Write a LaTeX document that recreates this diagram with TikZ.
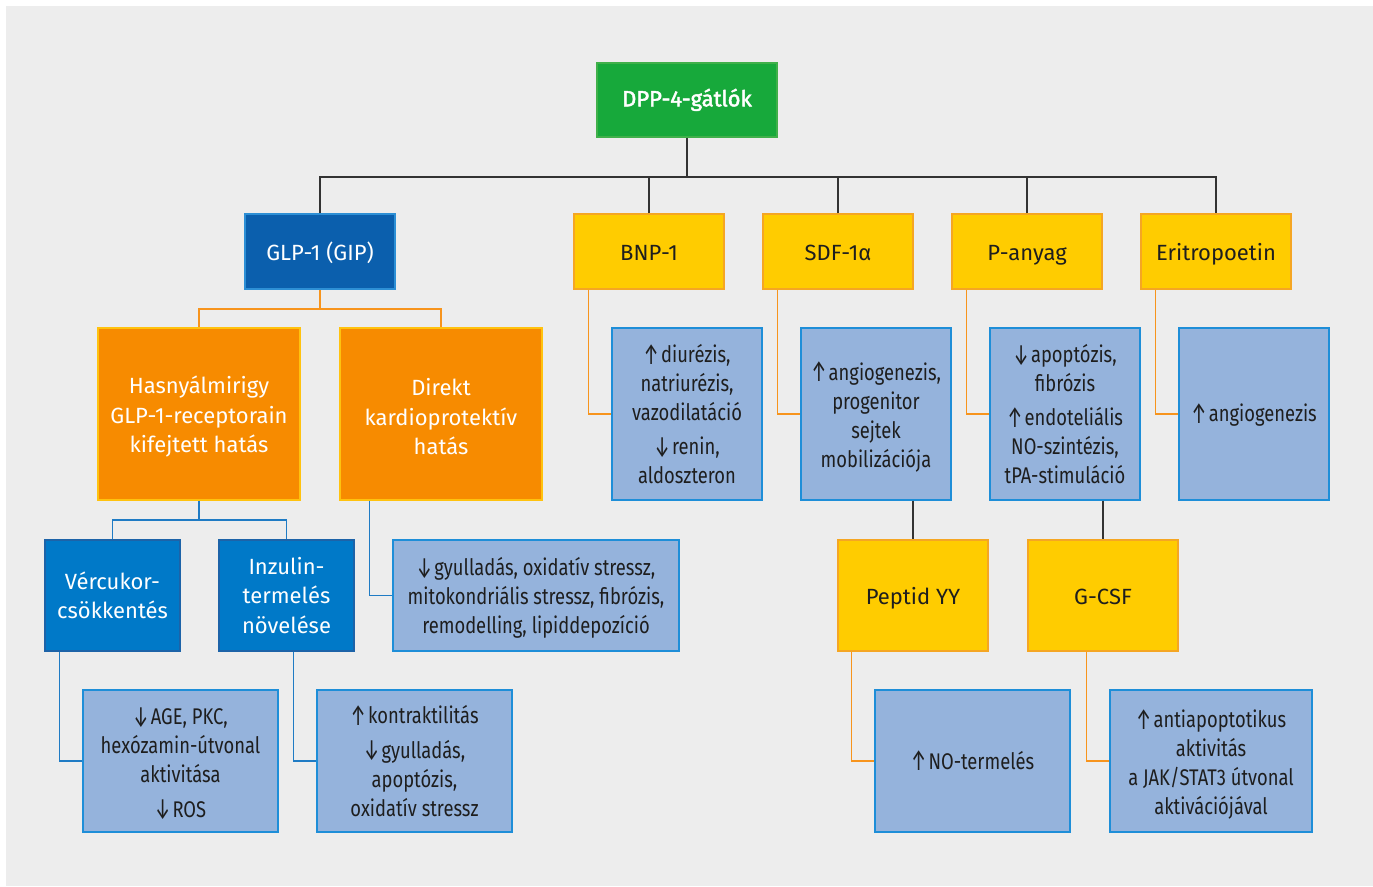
\documentclass[tikz,border=0pt]{standalone}
\usepackage{fontspec}
\usepackage{graphicx}
\setmainfont{Fira Sans}
\newfontfamily\condf[FakeStretch=0.81]{Fira Sans}
\newfontfamily\medf[FakeBold=2]{Fira Sans}
\usetikzlibrary{calc}
\definecolor{bg}{HTML}{EDEDED}
\definecolor{gfill}{HTML}{17A93B}
\definecolor{gdraw}{HTML}{40B04A}
\definecolor{nfill}{HTML}{0B5FAD}
\definecolor{ndraw}{HTML}{2D8FD5}
\definecolor{yfill}{HTML}{FFCC00}
\definecolor{ydraw}{HTML}{F5A623}
\definecolor{ofill}{HTML}{F78B00}
\definecolor{odraw}{HTML}{FFC20E}
\definecolor{mfill}{HTML}{0079C8}
\definecolor{mdraw}{HTML}{1D63A8}
\definecolor{lfill}{HTML}{95B3DC}
\definecolor{ldraw}{HTML}{1E8ED8}
\definecolor{txt}{HTML}{1E1E1E}
\definecolor{oline}{HTML}{F7941D}
\definecolor{bline}{HTML}{1F7BC4}
\definecolor{kline}{HTML}{333333}
\newcommand\up{\raisebox{-0.15ex}{\scalebox{0.95}[1.3]{↑}}\kern1.5pt}
\newcommand\dn{\raisebox{-0.15ex}{\scalebox{0.95}[1.3]{↓}}\kern1.5pt}
\newcommand\myelbow[3]{\path ([xshift=-17.25pt]#2.west) coordinate (tmp);
  \draw[#3] (tmp |- #1.south) |- (#2.west);}
\begin{document}
\begin{tikzpicture}[x=0.75pt,y=-0.75pt,
  box/.style={rectangle, inner sep=0pt, line width=1.1pt, align=center},
  hfont/.style={font=\fontsize{16.5}{22}\selectfont},
  lfont/.style={font=\condf\fontsize{17}{21.75}\selectfont},
  one/.style={text height=16.5pt, text depth=3.5pt},
  greenbox/.style={box, fill=gfill, draw=gdraw, text=white, font=\medf\fontsize{16.5}{22}\selectfont, text height=13pt, text depth=3.5pt},
  navybox/.style={box, one, fill=nfill, draw=ndraw, text=white, hfont},
  yellowbox/.style={box, one, fill=yfill, draw=ydraw, text=txt, hfont},
  orangebox/.style={box, fill=ofill, draw=odraw, text=white, font=\fontsize{16.5}{22.25}\selectfont},
  midbox/.style={box, fill=mfill, draw=mdraw, text=white, font=\fontsize{16.5}{22}\selectfont},
  lightbox/.style={box, fill=lfill, draw=ldraw, text=txt, lfont},
  blk/.style={draw=kline, line width=1pt},
  org/.style={draw=oline, line width=1pt},
  blu/.style={draw=bline, line width=1pt},
  sz1/.style={minimum width=112.5pt, minimum height=56.25pt},
  sz2/.style={minimum width=151.5pt, minimum height=129pt},
  sz3/.style={minimum width=112.5pt, minimum height=129pt},
  sz4/.style={minimum width=112.5pt, minimum height=83.25pt},
  sz5/.style={minimum width=101.25pt, minimum height=83.25pt},
  sz6/.style={minimum width=146.25pt, minimum height=106.5pt},
]
\fill[white] (0,0) rectangle (1373,886);
\fill[bg] (6,6) rectangle (1373,886);
\useasboundingbox (0,0) rectangle (1373,886);

% level 0
\node[greenbox, minimum width=135pt, minimum height=55.5pt] (dpp) at (687,100) {DPP-4-gátlók};
% level 1
\node[navybox, sz1] (glp) at (320,251.5) {GLP-1 (GIP)};
\node[yellowbox, sz1] (bnp) at (649,251.5) {BNP-1};
\node[yellowbox, sz1] (sdf) at (838,251.5) {SDF-1α};
\node[yellowbox, sz1] (pa) at (1027,251.5) {P-anyag};
\node[yellowbox, sz1] (epo) at (1216,251.5) {Eritropoetin};
% level 2
\node[orangebox, sz2] (hasn) at (199,414) {\rule{0pt}{17pt}Hasnyálmirigy\\GLP-1-receptorain\\kifejtett hatás};
\node[orangebox, sz2] (dir) at (441,414) {\rule{0pt}{17pt}Direkt\\kardioprotektív\\hatás};
\node[lightbox, sz3] (bnpE) at (687,414) {\up diurézis,\\natriurézis,\\vazodilatáció\\[4pt]\dn renin,\\aldoszteron};
\node[lightbox, sz3] (sdfE) at (876,414) {\rule{0pt}{18pt}\up angiogenezis,\\progenitor\\sejtek\\mobilizációja};
\node[lightbox, sz3] (paE) at (1065,414) {\dn apoptózis,\\fibrózis\\[4pt]\up endoteliális\\NO-szintézis,\\tPA-stimuláció};
\node[lightbox, sz3] (epoE) at (1254,414) {\rule{0pt}{15pt}\up angiogenezis};
% level 3
\node[midbox, sz5] (verc) at (112.5,595.5) {Vércukor-\\csökkentés};
\node[midbox, sz5] (inz) at (286.5,595.5) {Inzulin-\\termelés\\növelése};
\node[lightbox, minimum width=214.5pt, minimum height=83.25pt] (dirE) at (536,595.5) {\rule{0pt}{17pt}\dn gyulladás, oxidatív stressz,\\mitokondriális stressz, fibrózis,\\remodelling, lipiddepozíció};
\node[yellowbox, sz4] (pyy) at (913,595.5) {Peptid YY};
\node[yellowbox, sz4] (gcsf) at (1103,595.5) {G-CSF};
% level 4
\node[lightbox, sz6] (vercE) at (180.5,761) {\rule{0pt}{17pt}\dn AGE, PKC,\\hexózamin-útvonal\\aktivitása\\[4pt]\dn ROS};
\node[lightbox, sz6] (inzE) at (414.5,761) {\up kontraktilitás\\[4pt]\dn gyulladás,\\apoptózis,\\oxidatív stressz};
\node[lightbox, sz6] (pyyE) at (972.5,761) {\up NO-termelés};
\node[lightbox, minimum width=151.5pt, minimum height=106.5pt] (gcsfE) at (1211,761) {\rule{0pt}{19pt}\up antiapoptotikus\\aktivitás\\a JAK/STAT3 útvonal\\aktivációjával};

% connectors: top tree
\coordinate (t) at (687,177);
\draw[blk] (dpp.south) -- (t);
\draw[blk] (glp.north) |- (t) -| (epo.north);
\foreach \n in {bnp,sdf,pa} \draw[blk] (\n.north) -- (\n.north |- t);
% GLP branch
\coordinate (o1) at (320,309);
\draw[org] (glp.south) -- (o1);
\draw[org] (hasn.north) |- (o1) -| (dir.north);
% pancreas branch
\coordinate (b1) at (199,520);
\draw[blu] (hasn.south) -- (b1);
\draw[blu] (verc.north) |- (b1) -| (inz.north);
% elbows
\myelbow{bnp}{bnpE}{org}
\myelbow{sdf}{sdfE}{org}
\myelbow{pa}{paE}{org}
\myelbow{epo}{epoE}{org}
\myelbow{dir}{dirE}{blu}
\myelbow{verc}{vercE}{blu}
\myelbow{inz}{inzE}{blu}
\myelbow{pyy}{pyyE}{org}
\myelbow{gcsf}{gcsfE}{org}
% lower black links
\draw[blk] (pyy.north |- sdfE.south) -- (pyy.north);
\draw[blk] (gcsf.north |- paE.south) -- (gcsf.north);
\end{tikzpicture}
\end{document}
